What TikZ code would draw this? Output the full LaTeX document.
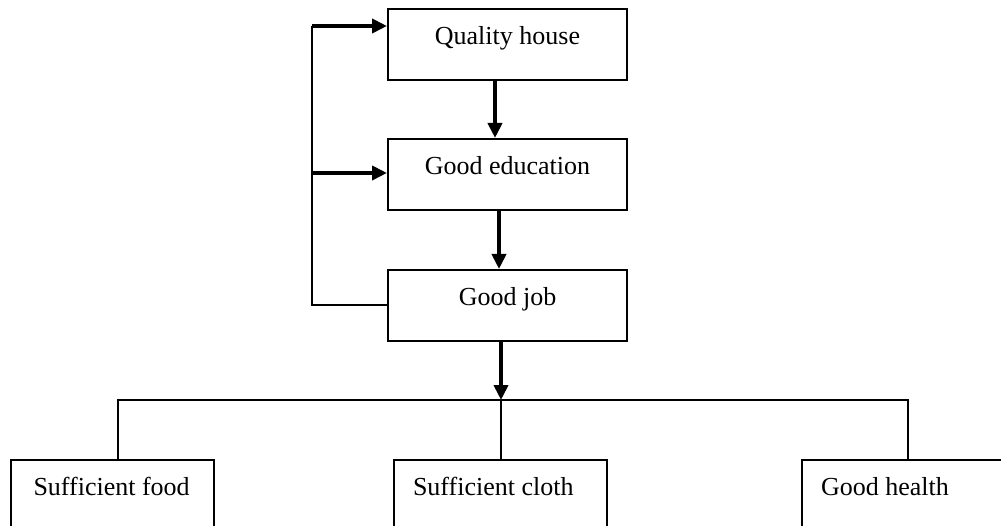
\documentclass[tikz,border=0pt]{standalone}
\usepackage{fontspec}
\setmainfont{Liberation Serif}
\usetikzlibrary{arrows.meta,calc}
\begin{document}
\begin{tikzpicture}[x=1pt,y=-1pt,
  box/.style={draw,line width=2pt,anchor=north west,inner sep=0pt,
    minimum height=71pt,text height=18pt,text depth=18pt,
    font=\fontsize{26}{30}\selectfont},
  topbox/.style={box,minimum width=239pt,align=center},
  botbox/.style={box,align=flush left},
  thickarr/.style={line width=4pt,-{Triangle[length=15pt,width=14pt]}},
  thinline/.style={line width=2pt}]
\path[use as bounding box,clip] (0,0) rectangle (1001,526);
\fill[white] (0,0) rectangle (1001,526);
% top column
\node[topbox] (qh) at (387,8) {Quality house};
\node[topbox] (edu) at (387,138) {Good education};
\node[topbox] (job) at (387,269) {Good job};
% bottom row
\node[botbox,minimum width=203pt,text width=158pt] (food) at (10,459) {Sufficient food};
\node[botbox,minimum width=213pt,text width=175pt] (cloth) at (393,459) {Sufficient cloth};
\node[botbox,minimum width=213pt,text width=175pt] (health) at (801,459) {Good health};
% feedback loop
\coordinate (fbtop) at (312,26);
\coordinate (fbmid) at (312,173);
\draw[thinline] (job.west) -| (fbtop);
\draw[thickarr] (fbtop) -- (fbtop -| qh.west);
\draw[thickarr] (fbmid) -- (fbmid -| edu.west);
% down arrows
\draw[thickarr] ([xshift=-12.5pt]qh.south) -- ([xshift=-12.5pt]edu.north);
\draw[thickarr] ([xshift=-8.5pt]edu.south) -- ([xshift=-8.5pt]job.north);
\coordinate (j) at (501,400);
\draw[thickarr] (job.south -| j) -- (j);
% distribution
\draw[thinline] ([xshift=5.5pt]food.north) |- (j) -| ([xshift=-0.5pt]health.north);
\draw[thinline] (j) -- (cloth.north -| j);
\end{tikzpicture}
\end{document}
